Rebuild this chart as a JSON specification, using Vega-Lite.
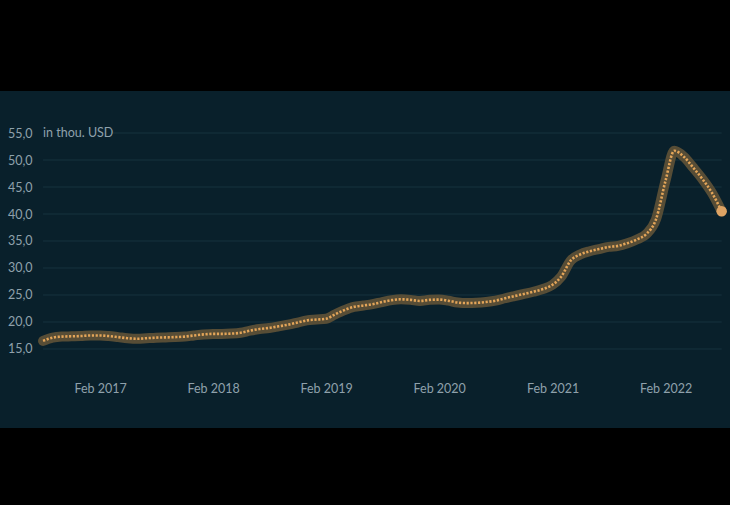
{
  "$schema": "https://vega.github.io/schema/vega-lite/v6.json",
  "width": 730,
  "height": 337,
  "autosize": {"type": "none"},
  "padding": {"top": 91, "bottom": 77, "left": 0, "right": 0},
  "background": "#000000",
  "config": {
    "view": {"fill": "#09202b", "stroke": null},
    "font": "Lato"
  },
  "datasets": {
    "series": [
      {"date": "2016-08-01", "value": 16.5},
      {"date": "2016-09-01", "value": 17.1},
      {"date": "2016-10-01", "value": 17.3},
      {"date": "2016-11-01", "value": 17.35},
      {"date": "2016-12-01", "value": 17.4},
      {"date": "2017-01-01", "value": 17.5},
      {"date": "2017-02-01", "value": 17.5},
      {"date": "2017-03-01", "value": 17.4},
      {"date": "2017-04-01", "value": 17.2},
      {"date": "2017-05-01", "value": 17.0},
      {"date": "2017-06-01", "value": 16.9},
      {"date": "2017-07-01", "value": 17.0},
      {"date": "2017-08-01", "value": 17.1},
      {"date": "2017-09-01", "value": 17.15},
      {"date": "2017-10-01", "value": 17.2},
      {"date": "2017-11-01", "value": 17.3},
      {"date": "2017-12-01", "value": 17.5},
      {"date": "2018-01-01", "value": 17.7},
      {"date": "2018-02-01", "value": 17.8},
      {"date": "2018-03-01", "value": 17.8},
      {"date": "2018-04-01", "value": 17.85},
      {"date": "2018-05-01", "value": 18.0},
      {"date": "2018-06-01", "value": 18.4},
      {"date": "2018-07-01", "value": 18.7},
      {"date": "2018-08-01", "value": 18.9},
      {"date": "2018-09-01", "value": 19.2},
      {"date": "2018-10-01", "value": 19.5},
      {"date": "2018-11-01", "value": 19.9},
      {"date": "2018-12-01", "value": 20.3},
      {"date": "2019-01-01", "value": 20.45},
      {"date": "2019-02-01", "value": 20.6},
      {"date": "2019-03-01", "value": 21.4},
      {"date": "2019-04-01", "value": 22.2},
      {"date": "2019-05-01", "value": 22.8},
      {"date": "2019-06-01", "value": 23.05},
      {"date": "2019-07-01", "value": 23.3},
      {"date": "2019-08-01", "value": 23.7},
      {"date": "2019-09-01", "value": 24.05},
      {"date": "2019-10-01", "value": 24.2},
      {"date": "2019-11-01", "value": 24.1},
      {"date": "2019-12-01", "value": 23.9},
      {"date": "2020-01-01", "value": 24.1},
      {"date": "2020-02-01", "value": 24.15},
      {"date": "2020-03-01", "value": 23.95},
      {"date": "2020-04-01", "value": 23.6},
      {"date": "2020-05-01", "value": 23.5},
      {"date": "2020-06-01", "value": 23.55},
      {"date": "2020-07-01", "value": 23.7},
      {"date": "2020-08-01", "value": 23.95},
      {"date": "2020-09-01", "value": 24.4},
      {"date": "2020-10-01", "value": 24.8},
      {"date": "2020-11-01", "value": 25.2},
      {"date": "2020-12-01", "value": 25.6},
      {"date": "2021-01-01", "value": 26.1},
      {"date": "2021-02-01", "value": 26.9},
      {"date": "2021-03-01", "value": 28.4},
      {"date": "2021-04-01", "value": 31.4},
      {"date": "2021-05-01", "value": 32.5},
      {"date": "2021-06-01", "value": 33.1},
      {"date": "2021-07-01", "value": 33.5},
      {"date": "2021-08-01", "value": 33.9},
      {"date": "2021-09-01", "value": 34.1},
      {"date": "2021-10-01", "value": 34.6},
      {"date": "2021-11-01", "value": 35.3},
      {"date": "2021-12-01", "value": 36.3},
      {"date": "2022-01-01", "value": 39.0},
      {"date": "2022-02-01", "value": 46.2},
      {"date": "2022-03-01", "value": 51.7},
      {"date": "2022-04-01", "value": 50.6},
      {"date": "2022-05-01", "value": 48.6},
      {"date": "2022-06-01", "value": 46.4},
      {"date": "2022-07-01", "value": 43.9},
      {"date": "2022-08-01", "value": 40.5}
    ],
    "grid": [
      {"date": "2017-03-15", "end": "2022-08-01", "value": 55},
      {"date": "2016-08-01", "end": "2022-08-01", "value": 50},
      {"date": "2016-08-01", "end": "2022-08-01", "value": 45},
      {"date": "2016-08-01", "end": "2022-08-01", "value": 40},
      {"date": "2016-08-01", "end": "2022-08-01", "value": 35},
      {"date": "2016-08-01", "end": "2022-08-01", "value": 30},
      {"date": "2016-08-01", "end": "2022-08-01", "value": 25},
      {"date": "2016-08-01", "end": "2022-08-01", "value": 20},
      {"date": "2016-08-01", "end": "2022-08-01", "value": 15}
    ],
    "unit": [
      {"date": "2016-08-01", "value": 55, "label": "in thou. USD"}
    ],
    "last": [
      {"date": "2022-08-01", "value": 40.5}
    ]
  },
  "encoding": {
    "x": {
      "field": "date",
      "type": "temporal",
      "title": null,
      "scale": {
        "type": "utc",
        "domain": [
          {"year": 2016, "month": 3, "date": 15, "utc": true},
          {"year": 2022, "month": 8, "date": 28, "utc": true}
        ]
      },
      "axis": {
        "values": [
          {"year": 2017, "month": 2, "date": 1, "utc": true},
          {"year": 2018, "month": 2, "date": 1, "utc": true},
          {"year": 2019, "month": 2, "date": 1, "utc": true},
          {"year": 2020, "month": 2, "date": 1, "utc": true},
          {"year": 2021, "month": 2, "date": 1, "utc": true},
          {"year": 2022, "month": 2, "date": 1, "utc": true}
        ],
        "format": "%b %Y",
        "grid": false,
        "domain": false,
        "ticks": false,
        "offset": -40,
        "labelPadding": 0,
        "labelBaseline": "middle",
        "labelColor": "#8fa1ab",
        "labelFont": "Lato",
        "labelFontSize": 12.5,
        "labelFlush": false,
        "labelOverlap": false
      }
    },
    "y": {
      "field": "value",
      "type": "quantitative",
      "title": null,
      "scale": {"domain": [0.37, 62.778], "nice": false, "zero": false},
      "axis": {
        "values": [15, 20, 25, 30, 35, 40, 45, 50, 55],
        "labelExpr": "replace(format(datum.value, '.1f'), '.', ',')",
        "grid": false,
        "domain": false,
        "ticks": false,
        "offset": -36,
        "labelPadding": 4,
        "labelColor": "#8fa1ab",
        "labelFont": "Lato",
        "labelFontSize": 12.5,
        "labelFlush": false,
        "labelOverlap": false
      }
    }
  },
  "layer": [
    {
      "data": {"name": "grid"},
      "mark": {"type": "rule", "color": "#17333f", "strokeWidth": 1},
      "encoding": {"x2": {"field": "end"}}
    },
    {
      "data": {"name": "series"},
      "mark": {"type": "line", "interpolate": "monotone", "color": "#574d36", "strokeWidth": 10, "strokeJoin": "round", "strokeCap": "round"}
    },
    {
      "data": {"name": "series"},
      "mark": {"type": "line", "interpolate": "monotone", "color": "#e3a559", "strokeWidth": 2.6, "strokeDash": [2.2, 1.6], "strokeCap": "butt"}
    },
    {
      "data": {"name": "last"},
      "mark": {"type": "point", "shape": "circle", "filled": true, "size": 110, "color": "#dda364", "opacity": 1}
    },
    {
      "data": {"name": "unit"},
      "mark": {"type": "text", "align": "left", "baseline": "middle", "color": "#8fa1ab", "font": "Lato", "fontSize": 12.5, "dx": 0},
      "encoding": {"text": {"field": "label"}}
    }
  ]
}
